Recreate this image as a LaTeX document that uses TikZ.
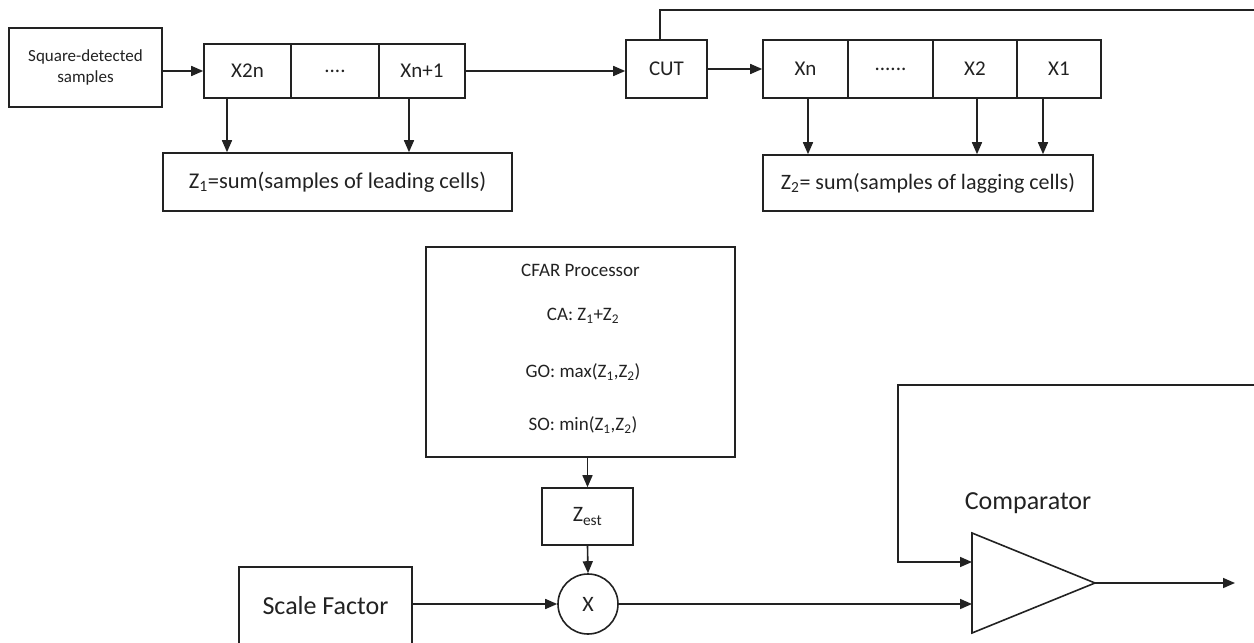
\documentclass[tikz,border=0pt]{standalone}
\usepackage{fontspec}
\setmainfont{Carlito}
\usetikzlibrary{arrows.meta}
\definecolor{ink}{HTML}{222222}
\tikzset{
  box/.style={draw=ink, line width=1.6pt, inner sep=0pt, align=center, text=ink},
  arr/.style={draw=ink, line width=1.6pt, -{Triangle[length=12pt,width=10pt]}},
  ln/.style={draw=ink, line width=1.6pt},
  txt/.style={inner sep=0pt, text=ink}
}
\begin{document}
\begin{tikzpicture}[x=1pt,y=-1pt]
\useasboundingbox (0,0) rectangle (1254,643);
% input
\node[box, minimum width=153pt, minimum height=79pt, font=\fontsize{17}{21}\selectfont] (sq) at (85.5,67.5) {Square-detected\\samples};
% leading cells
\node[box, minimum width=87pt, minimum height=54pt, font=\fontsize{21}{25}\selectfont] (c1) at (247.5,71) {X2n};
\node[box, minimum width=88pt, minimum height=54pt, font=\fontsize{21}{25}\selectfont] (c2) at (335,71) {....};
\node[box, minimum width=86pt, minimum height=54pt, font=\fontsize{21}{25}\selectfont] (c3) at (422,71) {Xn+1};
% CUT
\node[box, minimum width=81pt, minimum height=58pt, font=\fontsize{21}{25}\selectfont] (cut) at (666.5,69) {CUT};
% lagging cells
\node[box, minimum width=85pt, minimum height=58pt, font=\fontsize{21}{25}\selectfont] (d1) at (805.5,69) {Xn};
\node[box, minimum width=85pt, minimum height=58pt, font=\fontsize{21}{25}\selectfont] (d2) at (890.5,69) {......};
\node[box, minimum width=84pt, minimum height=58pt, font=\fontsize{21}{25}\selectfont] (d3) at (975,69) {X2};
\node[box, minimum width=84pt, minimum height=58pt, font=\fontsize{21}{25}\selectfont] (d4) at (1059,69) {X1};
% sums
\node[box, minimum width=349pt, minimum height=58pt, font=\fontsize{22.5}{26}\selectfont] (z1) at (337.5,182) {Z\textsubscript{1}=sum(samples of leading cells)};
\node[box, minimum width=330pt, minimum height=56pt, font=\fontsize{22}{26}\selectfont] (z2) at (928,183) {Z\textsubscript{2}= sum(samples of lagging cells)};
% CFAR processor
\node[box, minimum width=309pt, minimum height=210pt] (cfar) at (580.5,352) {};
\node[txt, font=\fontsize{19}{23}\selectfont] (cf1) at (580.5,270) {CFAR Processor};
\node[txt, font=\fontsize{19}{23}\selectfont] (cf2) at (583,316) {CA: Z\textsubscript{1}+Z\textsubscript{2}};
\node[txt, font=\fontsize{19}{23}\selectfont] (cf3) at (583,372) {GO: max(Z\textsubscript{1},Z\textsubscript{2})};
\node[txt, font=\fontsize{19}{23}\selectfont] (cf4) at (583,425) {SO: min(Z\textsubscript{1},Z\textsubscript{2})};
% Zest
\node[box, minimum width=91pt, minimum height=57pt, font=\fontsize{22}{26}\selectfont] (zest) at (587.5,516.5) {Z\textsubscript{est}};
% multiplier
\node[box, circle, minimum size=60pt, font=\fontsize{22}{26}\selectfont] (mult) at (588,604) {X};
% scale factor
\node[box, minimum width=173pt, minimum height=78pt, font=\fontsize{26}{30}\selectfont] (scale) at (325.5,606) {Scale Factor};
% comparator
\coordinate (ctop) at (972,533);
\coordinate (cbot) at (972,633);
\coordinate (cout) at (1095,583);
\coordinate (in1) at (972,562);
\coordinate (in2) at (972,604);
\coordinate (outend) at (1235,583);
\coordinate (fbA) at (1256,10);
\coordinate (fbB) at (1256,385);
\draw[ln, line join=miter] (ctop) -- (cout) -- (cbot) -- cycle;
\node[txt, font=\fontsize{26}{30}\selectfont] (cmplabel) at (1028,503) {Comparator};
% connectors
\draw[arr] (sq.east |- c1.west) -- (c1.west);
\draw[arr] (c3.east) -- (cut.west |- c3.east);
\draw[arr] (cut.east) -- (d1.west);
\draw[arr] (c1.south -| 227,0) -- (z1.north -| 227,0);
\draw[arr] (c3.south -| 409,0) -- (z1.north -| 409,0);
\draw[arr] (d1.south -| 808,0) -- (z2.north -| 808,0);
\draw[arr] (d3.south -| 977,0) -- (z2.north -| 977,0);
\draw[arr] (d4.south -| 1043,0) -- (z2.north -| 1043,0);
\draw[ln] (cut.north -| 660,0) |- (fbA);
\draw[arr] (zest.north |- cfar.south) -- (zest.north);
\draw[arr] (zest.south) -- (mult.north);
\draw[arr] (scale.east |- mult.west) -- (mult.west);
\draw[arr] (mult.east) -- (in2);
\draw[arr] (fbB) -| (in1 -| 898,0) -- (in1);
\draw[arr] (cout) -- (outend);
\end{tikzpicture}
\end{document}
